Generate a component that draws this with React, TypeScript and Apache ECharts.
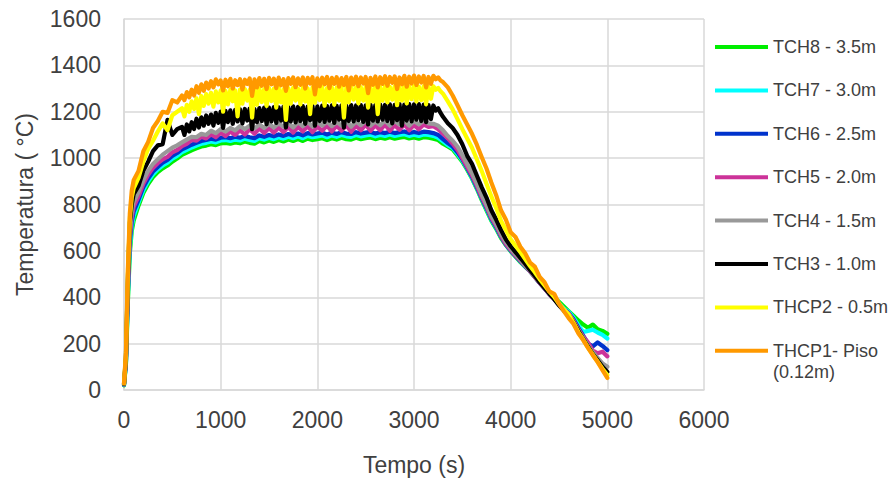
import React, { useEffect, useRef } from "react";
import * as echarts from "echarts";

// Time stamps (s) for the smoother upper thermocouples
const times: number[] = [
  0, 20, 40, 60, 80, 100,
  150, 200, 250, 300, 350, 400, 450, 500, 550, 600,
  650, 700, 750, 800, 850, 900, 950, 1000, 1050, 1100,
  1150, 1200, 1250, 1300, 1350, 1400, 1450, 1500, 1550, 1600,
  1650, 1700, 1750, 1800, 1850, 1900, 1950, 2000, 2050, 2100,
  2150, 2200, 2250, 2300, 2350, 2400, 2450, 2500, 2550, 2600,
  2650, 2700, 2750, 2800, 2850, 2900, 2950, 3000, 3050, 3100,
  3150, 3200, 3250, 3300, 3350, 3400, 3450, 3500, 3550, 3600,
  3650, 3700, 3750, 3800, 3850, 3900, 3950, 4000, 4050, 4100,
  4150, 4200, 4250, 4300, 4350, 4400, 4450, 4500, 4550, 4600,
  4650, 4700, 4750, 4800, 4850, 4900, 4950, 5000,
];

// Denser time stamps for the noisy lower thermocouples
const timesFine: number[] = [
  0, 20, 40, 60, 80, 100,
  150, 200, 250, 300, 350, 400, 450, 500, 550, 600,
  625, 650, 675, 700, 725, 750, 775, 800, 825, 850, 875, 900,
  925, 950, 975, 1000, 1025, 1050, 1075, 1100, 1125, 1150, 1175, 1200,
  1225, 1250, 1275, 1300, 1325, 1350, 1375, 1400, 1425, 1450, 1475, 1500,
  1525, 1550, 1575, 1600, 1625, 1650, 1675, 1700, 1725, 1750, 1775, 1800,
  1825, 1850, 1875, 1900, 1925, 1950, 1975, 2000, 2025, 2050, 2075, 2100,
  2125, 2150, 2175, 2200, 2225, 2250, 2275, 2300, 2325, 2350, 2375, 2400,
  2425, 2450, 2475, 2500, 2525, 2550, 2575, 2600, 2625, 2650, 2675, 2700,
  2725, 2750, 2775, 2800, 2825, 2850, 2875, 2900, 2925, 2950, 2975, 3000,
  3025, 3050, 3075, 3100, 3125, 3150, 3175, 3200, 3225, 3250, 3275, 3300,
  3350, 3400, 3450, 3500, 3550, 3600, 3650, 3700, 3750, 3800,
  3850, 3900, 3950, 4000, 4050, 4100, 4150, 4200, 4250, 4300,
  4350, 4400, 4450, 4500, 4550, 4600, 4650, 4700, 4750, 4800,
  4850, 4900, 4950, 5000,
];

const tch8: number[] = [
  20, 110, 380, 590, 685, 730,
  795, 850, 888, 918, 940, 956, 968, 985, 998, 1014,
  1024, 1034, 1042, 1050, 1054, 1060, 1056, 1064, 1066, 1062,
  1068, 1064, 1072, 1066, 1062, 1074, 1068, 1076, 1070, 1078,
  1072, 1080, 1074, 1082, 1074, 1084, 1078, 1082, 1086, 1078,
  1086, 1080, 1088, 1082, 1080, 1088, 1082, 1086, 1089, 1082,
  1088, 1084, 1090, 1084, 1088, 1091, 1085, 1089, 1084, 1090,
  1088, 1084, 1078, 1062, 1050, 1038, 1012, 985, 950, 912,
  868, 820, 775, 730, 695, 655, 625, 598, 575, 552,
  532, 512, 488, 462, 440, 420, 398, 380, 360, 340,
  320, 300, 282, 268, 282, 262, 255, 242,
];

const tch7: number[] = [
  22, 115, 400, 615, 705, 750,
  808, 862, 900, 930, 952, 968, 980, 998, 1010, 1026,
  1036, 1046, 1054, 1062, 1066, 1072, 1068, 1076, 1078, 1074,
  1080, 1076, 1084, 1078, 1074, 1086, 1080, 1088, 1082, 1090,
  1084, 1092, 1086, 1094, 1086, 1096, 1090, 1094, 1098, 1090,
  1098, 1092, 1100, 1094, 1092, 1100, 1094, 1098, 1101, 1094,
  1100, 1096, 1102, 1096, 1100, 1103, 1096, 1101, 1096, 1102,
  1100, 1096, 1088, 1072, 1056, 1044, 1018, 990, 955, 915,
  872, 825, 780, 735, 700, 660, 628, 601, 578, 555,
  534, 513, 489, 463, 440, 418, 396, 374, 352, 338,
  312, 280, 250, 255, 260, 248, 238, 222,
];

const tch6: number[] = [
  23, 120, 420, 640, 725, 770,
  820, 875, 912, 942, 962, 980, 992, 1010, 1022, 1038,
  1048, 1058, 1066, 1074, 1078, 1084, 1080, 1088, 1090, 1086,
  1092, 1088, 1096, 1090, 1086, 1098, 1092, 1100, 1094, 1102,
  1096, 1104, 1098, 1106, 1098, 1108, 1102, 1106, 1110, 1102,
  1110, 1104, 1112, 1106, 1104, 1112, 1106, 1110, 1113, 1106,
  1112, 1108, 1114, 1108, 1112, 1115, 1108, 1113, 1108, 1114,
  1112, 1108, 1100, 1082, 1065, 1050, 1025, 995, 958, 920,
  875, 828, 785, 738, 703, 662, 628, 602, 578, 556,
  534, 513, 488, 462, 438, 414, 392, 370, 348, 332,
  305, 268, 235, 200, 188, 205, 190, 172,
];

const tch5: number[] = [
  24, 125, 440, 660, 745, 790,
  835, 890, 928, 958, 978, 995, 1005, 1025, 1035, 1052,
  1062, 1078, 1075, 1092, 1085, 1102, 1090, 1110, 1095, 1115,
  1100, 1120, 1102, 1125, 1105, 1128, 1108, 1130, 1110, 1132,
  1112, 1135, 1110, 1136, 1115, 1138, 1112, 1136, 1118, 1140,
  1115, 1140, 1118, 1142, 1114, 1140, 1120, 1144, 1118, 1142,
  1120, 1145, 1118, 1142, 1122, 1146, 1120, 1144, 1124, 1145,
  1135, 1138, 1125, 1105, 1085, 1062, 1035, 1000, 962, 925,
  880, 832, 790, 742, 708, 665, 630, 604, 580, 558,
  535, 512, 487, 462, 438, 413, 392, 368, 346, 330,
  300, 262, 230, 205, 170, 158, 165, 145,
];

const tch4: number[] = [
  25, 130, 460, 680, 770, 810,
  855, 905, 945, 975, 995, 1015, 1030, 1045, 1055, 1068,
  1080, 1092, 1090, 1105, 1100, 1118, 1108, 1125, 1115, 1130,
  1120, 1138, 1125, 1140, 1128, 1145, 1130, 1148, 1132, 1150,
  1135, 1152, 1132, 1155, 1138, 1156, 1136, 1155, 1140, 1158,
  1138, 1156, 1140, 1160, 1136, 1158, 1142, 1160, 1140, 1158,
  1142, 1162, 1140, 1160, 1145, 1162, 1140, 1160, 1146, 1162,
  1150, 1148, 1140, 1120, 1095, 1075, 1050, 1012, 975, 935,
  890, 842, 798, 750, 715, 672, 638, 610, 585, 562,
  538, 515, 490, 465, 440, 415, 395, 370, 348, 328,
  295, 258, 225, 192, 163, 138, 115, 100,
];

// sampled on timesFine
const tch3: number[] = [
  26, 140, 480, 720, 800, 845,
  880, 945, 985, 1030, 1055, 1060, 1165, 1100, 1125, 1135,
  1100, 1145, 1115, 1155, 1125, 1170, 1132, 1176, 1140, 1184, 1148, 1188,
  1140, 1195, 1152, 1200, 1130, 1204, 1155, 1206, 1148, 1208, 1158, 1210,
  1150, 1212, 1162, 1214, 1125, 1212, 1155, 1216, 1160, 1218, 1146, 1218,
  1158, 1220, 1152, 1219, 1162, 1222, 1132, 1220, 1158, 1223, 1154, 1221,
  1160, 1224, 1148, 1222, 1164, 1225, 1140, 1223, 1160, 1226, 1156, 1224,
  1162, 1227, 1152, 1225, 1166, 1228, 1132, 1226, 1160, 1229, 1158, 1227,
  1164, 1229, 1156, 1228, 1145, 1230, 1162, 1229, 1158, 1231, 1166, 1230,
  1160, 1232, 1150, 1230, 1164, 1233, 1140, 1231, 1162, 1233, 1158, 1232,
  1166, 1233, 1160, 1231, 1155, 1229, 1168, 1227, 1205, 1215, 1195, 1178,
  1150, 1130, 1100, 1060, 1010, 975, 925, 875, 830, 775,
  735, 690, 650, 620, 595, 570, 545, 518, 492, 465,
  440, 415, 392, 365, 342, 322, 292, 255, 220, 187,
  155, 128, 100, 78,
];

// sampled on timesFine
const thcp2: number[] = [
  28, 150, 500, 740, 830, 870,
  915, 985, 1040, 1075, 1115, 1150, 1120, 1185, 1200, 1215,
  1180, 1230, 1200, 1245, 1212, 1258, 1190, 1268, 1225, 1276, 1235, 1282,
  1222, 1288, 1240, 1292, 1200, 1290, 1232, 1295, 1245, 1293, 1180, 1296,
  1235, 1298, 1248, 1294, 1175, 1298, 1230, 1301, 1242, 1298, 1225, 1302,
  1246, 1300, 1218, 1303, 1240, 1298, 1165, 1302, 1235, 1304, 1248, 1300,
  1232, 1304, 1244, 1301, 1190, 1305, 1238, 1303, 1250, 1306, 1226, 1302,
  1245, 1305, 1230, 1304, 1248, 1307, 1175, 1304, 1240, 1308, 1252, 1305,
  1236, 1306, 1248, 1308, 1218, 1305, 1244, 1309, 1190, 1307, 1248, 1310,
  1240, 1308, 1252, 1310, 1228, 1307, 1248, 1311, 1236, 1309, 1254, 1312,
  1244, 1309, 1250, 1311, 1232, 1308, 1256, 1310, 1295, 1303, 1288, 1278,
  1245, 1210, 1168, 1125, 1085, 1045, 995, 945, 890, 835,
  785, 730, 690, 650, 622, 595, 565, 535, 508, 478,
  452, 425, 402, 372, 348, 325, 290, 250, 218, 183,
  152, 122, 92, 65,
];

// sampled on timesFine
const thcp1: number[] = [
  30, 160, 520, 760, 860, 905,
  945, 1030, 1070, 1130, 1160, 1200, 1195, 1250, 1240, 1270,
  1250, 1285, 1262, 1295, 1270, 1310, 1282, 1318, 1290, 1326, 1300, 1332,
  1305, 1340, 1318, 1335, 1292, 1338, 1310, 1342, 1300, 1336, 1315, 1340,
  1296, 1338, 1320, 1344, 1268, 1340, 1305, 1345, 1312, 1342, 1298, 1346,
  1318, 1343, 1302, 1347, 1314, 1340, 1290, 1345, 1320, 1348, 1306, 1344,
  1316, 1348, 1300, 1346, 1322, 1349, 1275, 1344, 1310, 1347, 1318, 1350,
  1302, 1346, 1320, 1349, 1308, 1345, 1315, 1350, 1292, 1347, 1318, 1351,
  1310, 1348, 1322, 1350, 1280, 1346, 1316, 1352, 1305, 1349, 1320, 1353,
  1312, 1350, 1325, 1352, 1298, 1348, 1318, 1355, 1308, 1351, 1322, 1356,
  1315, 1352, 1326, 1354, 1305, 1350, 1320, 1355, 1340, 1348, 1335, 1328,
  1305, 1270, 1228, 1185, 1145, 1105, 1058, 1005, 955, 895,
  840, 775, 735, 680, 660, 618, 590, 550, 532, 488,
  465, 425, 415, 372, 340, 310, 285, 245, 215, 182,
  150, 120, 86, 52,
];

const seriesNames: string[] = [
  "TCH8 - 3.5m",
  "TCH7 - 3.0m",
  "TCH6 - 2.5m",
  "TCH5 - 2.0m",
  "TCH4 - 1.5m",
  "TCH3 - 1.0m",
  "THCP2 - 0.5m",
  "THCP1- Piso (0.12m)",
];
const seriesValues: number[][] = [tch8, tch7, tch6, tch5, tch4, tch3, thcp2, thcp1];
const seriesTimes: number[][] = [times, times, times, times, times, timesFine, timesFine, timesFine];
const seriesColors: string[] = [
  "#00EE00",
  "#00FFFF",
  "#0033CC",
  "#CC3399",
  "#999999",
  "#000000",
  "#FFFF00",
  "#FF9900",
];

const xTitle = "Tempo (s)";
const yTitle = "Temperatura ( °C)";

const FONT = "'Liberation Sans', Arial, sans-serif";
const TXT = "#404040";

export default function App() {
  const ref = useRef<HTMLDivElement>(null);
  useEffect(() => {
    if (!ref.current) return;
    const chart = echarts.init(ref.current, undefined, { renderer: "svg" });
    const series = seriesNames.map((name, si) => ({
      name,
      type: "line",
      data: seriesTimes[si].map((t, i) => [t, seriesValues[si][i]]),
      showSymbol: false,
      symbol: "none",
      color: seriesColors[si],
      lineStyle: { width: 4.2, color: seriesColors[si], join: "round", cap: "round" },
      emphasis: { disabled: true },
    }));
    chart.setOption({
      animation: false,
      textStyle: { fontFamily: FONT },
      grid: { left: 124, right: 188, top: 19, bottom: 95, containLabel: false },
      xAxis: {
        type: "value",
        min: 0,
        max: 6000,
        interval: 1000,
        name: xTitle,
        nameLocation: "middle",
        nameGap: 63,
        nameTextStyle: { fontSize: 23, color: TXT, fontFamily: FONT },
        axisLine: { show: true, lineStyle: { color: "#D9D9D9", width: 1.5 } },
        axisTick: { show: false },
        axisLabel: {
          fontSize: 23,
          color: TXT,
          margin: 18,
          fontFamily: FONT,
          formatter: (v: number) => String(v),
        },
        splitLine: { show: true, lineStyle: { color: "#D9D9D9", width: 1.5 } },
      },
      yAxis: {
        type: "value",
        min: 0,
        max: 1600,
        interval: 200,
        name: yTitle,
        nameLocation: "middle",
        nameGap: 88,
        nameTextStyle: { fontSize: 23, color: TXT, fontFamily: FONT },
        axisLine: { show: true, lineStyle: { color: "#D9D9D9", width: 1.5 } },
        axisTick: { show: false },
        axisLabel: {
          fontSize: 23,
          color: TXT,
          margin: 23,
          fontFamily: FONT,
          formatter: (v: number) => String(v),
        },
        splitLine: { show: true, lineStyle: { color: "#D9D9D9", width: 1.5 } },
      },
      legend: {
        orient: "vertical",
        left: 715,
        top: 37,
        padding: 0,
        itemWidth: 53,
        itemHeight: 4,
        itemGap: 23.4,
        icon: "rect",
        selectedMode: false,
        data: seriesNames,
        formatter: (name: string) => (name === "THCP1- Piso (0.12m)" ? "THCP1- Piso" : name),
        textStyle: { fontSize: 18, color: TXT, lineHeight: 20, fontFamily: FONT },
      },
      graphic: [
        {
          type: "text",
          left: 773,
          top: 363,
          style: { text: "(0.12m)", fontSize: 18, fill: TXT, fontFamily: FONT },
        },
      ],
      series,
    });
    return () => chart.dispose();
  }, []);
  return (
    <div
      ref={ref}
      style={{ position: "fixed", left: 0, top: 0, width: 892, height: 485, background: "#fff" }}
    />
  );
}
